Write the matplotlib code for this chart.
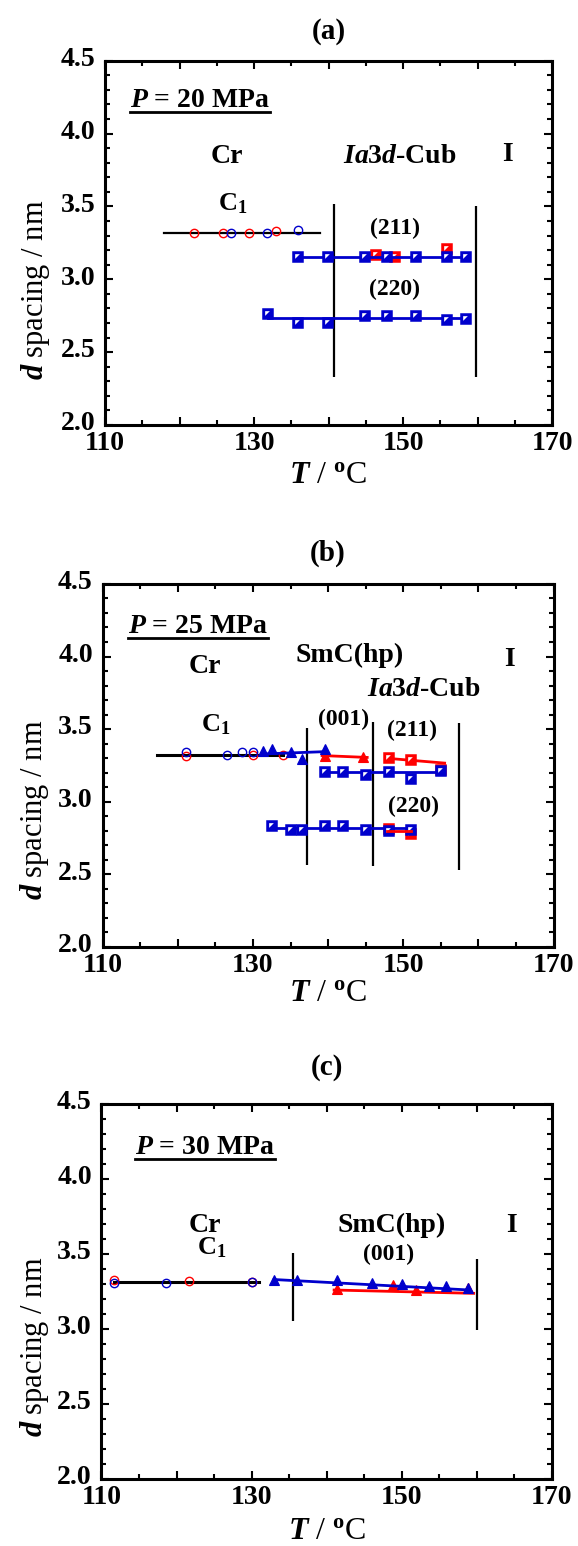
import numpy as np
import matplotlib
matplotlib.use('Agg')
import matplotlib.pyplot as plt
from matplotlib.path import Path
from matplotlib.lines import Line2D
from matplotlib.transforms import ScaledTranslation

plt.rcParams['font.family'] = ['Liberation Serif', 'DejaVu Serif']
plt.rcParams['font.weight'] = 'bold'
plt.rcParams['mathtext.fontset'] = 'custom'
plt.rcParams['mathtext.rm'] = 'Liberation Serif:bold'
plt.rcParams['mathtext.bf'] = 'Liberation Serif:bold'
plt.rcParams['mathtext.it'] = 'Liberation Serif:italic:bold'

RED = '#ff0000'
BLUE = '#0000cc'

# ---- (a) P = 20 MPa ----
a_c1_red_T = [121.9, 125.9, 129.3, 132.9]
a_c1_red_d = [3.32, 3.32, 3.32, 3.33]
a_c1_blue_T = [126.9, 131.8, 135.9]
a_c1_blue_d = [3.32, 3.32, 3.34]
a_c1_fit_T = [117.9, 138.9]
a_c1_fit_d = [3.32, 3.32]
a_211_blue_T = [135.9, 139.9, 144.9, 147.9, 151.8, 155.9, 158.4]
a_211_blue_d = [3.155, 3.155, 3.155, 3.155, 3.155, 3.155, 3.155]
a_211_red_T = [146.4, 148.9, 155.9]
a_211_red_d = [3.17, 3.15, 3.205]
a_211_fit_T = [135.9, 158.4]
a_211_fit_d = [3.155, 3.155]
a_220_blue_T = [131.9, 135.9, 139.9, 144.9, 147.9, 151.8, 155.9, 158.4]
a_220_blue_d = [2.76, 2.70, 2.70, 2.75, 2.75, 2.75, 2.72, 2.73]
a_220_fit_T = [131.9, 158.4]
a_220_fit_d = [2.733, 2.733]
a_bound_T = [140.7, 159.8]
a_bound_lo = [2.33, 2.33]
a_bound_hi = [3.52, 3.50]

# ---- (b) P = 25 MPa ----
b_c1_blue_T = [121.1, 126.5, 128.5, 130.0]
b_c1_blue_d = [3.34, 3.32, 3.34, 3.34]
b_c1_red_T = [121.1, 130.0, 134.0]
b_c1_red_d = [3.315, 3.32, 3.32]
b_c1_fit_T = [117.2, 134.0]
b_c1_fit_d = [3.32, 3.32]
b_001_blue_T = [131.3, 132.5, 135.0, 136.5, 139.6]
b_001_blue_d = [3.35, 3.36, 3.34, 3.295, 3.36]
b_001_blue_fit_T = [131.9, 139.6]
b_001_blue_fit_d = [3.33, 3.345]
b_001_red_T = [139.6, 144.6]
b_001_red_d = [3.318, 3.307]
b_001_red_fit_T = [139.2, 145.2]
b_001_red_fit_d = [3.318, 3.305]
b_211_red_T = [148.1, 151.0, 155.0]
b_211_red_d = [3.30, 3.29, 3.22]
b_211_red_fit_T = [148.1, 155.5]
b_211_red_fit_d = [3.298, 3.266]
b_211_blue_T = [139.6, 142.0, 145.1, 148.1, 151.0, 155.0]
b_211_blue_d = [3.204, 3.204, 3.186, 3.204, 3.158, 3.215]
b_211_blue_fit_T = [139.0, 155.0]
b_211_blue_fit_d = [3.206, 3.206]
b_220_blue_T = [132.5, 135.0, 136.5, 139.6, 142.0, 145.1, 148.1, 151.0]
b_220_blue_d = [2.83, 2.807, 2.807, 2.83, 2.83, 2.807, 2.80, 2.807]
b_220_blue_fit_T = [132.5, 151.0]
b_220_blue_fit_d = [2.818, 2.818]
b_220_red_T = [148.1, 151.0]
b_220_red_d = [2.81, 2.78]
b_220_red_fit_T = [147.8, 151.0]
b_220_red_fit_d = [2.80, 2.80]
b_bound_T = [137.2, 146.0, 157.4]
b_bound_lo = [2.566, 2.554, 2.532]
b_bound_hi = [3.507, 3.552, 3.541]

# ---- (c) P = 30 MPa ----
c_c1_red_T = [111.6, 121.6, 130.0]
c_c1_red_d = [3.327, 3.322, 3.316]
c_c1_blue_T = [111.6, 118.6, 130.0]
c_c1_blue_d = [3.304, 3.304, 3.311]
c_c1_fit_T = [111.6, 131.0]
c_c1_fit_d = [3.311, 3.311]
c_001_blue_T = [133.0, 136.1, 141.4, 146.0, 150.0, 153.6, 155.9, 158.9]
c_001_blue_d = [3.327, 3.327, 3.327, 3.309, 3.30, 3.287, 3.287, 3.271]
c_001_blue_fit_T = [133.0, 159.1]
c_001_blue_fit_d = [3.33, 3.26]
c_001_red_T = [141.4, 148.9, 151.9, 158.9]
c_001_red_d = [3.264, 3.293, 3.262, 3.271]
c_001_red_fit_T = [141.0, 159.6]
c_001_red_fit_d = [3.26, 3.238]
c_bound_T = [135.5, 160.1]
c_bound_lo = [3.055, 2.993]
c_bound_hi = [3.509, 3.47]

# white corner drawn on top of the squares
corner = Path([(-1, 1), (0.4, 1), (-1, -0.4), (-1, 1)],
              [Path.MOVETO, Path.LINETO, Path.LINETO, Path.CLOSEPOLY])


def circles(ax, T, d, color):
    ax.plot(T, d, ls='none', marker='o', ms=6.0, mfc='none', mec=color, mew=1.0)


def squares(ax, T, d, color):
    ax.plot(T, d, ls='none', marker='s', ms=7.6, mfc=color, mec=color, mew=1.1)
    ax.plot(T, d, ls='none', marker=corner, ms=4.8, mfc='white', mec='none')


def triangles(ax, T, d, color):
    ax.plot(T, d, ls='none', marker='^', ms=7.2, mfc=color, mec=color, mew=0.8)


def fit(ax, T, d, color, lw=2.0):
    ax.plot(T, d, '-', color=color, lw=lw)


def bounds(ax, T, lo, hi):
    ax.vlines(T, lo, hi, color='black', lw=1.6)


def style(ax, title, title_y, xlab_y, ylab_x, ylab_y):
    ax.set_xlim(110, 170)
    ax.set_ylim(2.0, 4.5)
    ax.set_xticks([110, 120, 130, 140, 150, 160, 170])
    ax.set_xticklabels(['110', '', '130', '', '150', '', '170'])
    ax.set_xticks(np.arange(110, 171, 5), minor=True)
    ax.set_yticks([2.0, 2.5, 3.0, 3.5, 4.0, 4.5])
    ax.set_yticklabels(['2.0', '2.5', '3.0', '3.5', '4.0', '4.5'])
    ax.set_yticks(np.arange(2.0, 4.51, 0.1), minor=True)
    ax.tick_params(which='both', direction='in', top=True, right=True,
                   labelsize=20, width=1.5)
    ax.tick_params(which='major', length=5.5)
    ax.tick_params(which='minor', length=3.5)
    ax.tick_params(axis='x', pad=4.5)
    ax.tick_params(axis='y', pad=7)
    for sp in ax.spines.values():
        sp.set_linewidth(2.2)
    for lbl in ax.get_yticklabels():
        lbl.set_transform(lbl.get_transform() + ScaledTranslation(0, 3 / 72, fig.dpi_scale_trans))
    ax.text(0.5, title_y, title, transform=ax.transAxes, fontsize=21,
            ha='center', va='center')
    ax.set_xlabel(r'$T$ / $^\mathrm{o}$C', fontsize=23, va='center')
    ax.xaxis.set_label_coords(0.5, xlab_y)
    ax.set_ylabel(r'$d$ spacing / nm', fontsize=22, va='center')
    ax.yaxis.set_label_coords(ylab_x, ylab_y)


fig = plt.figure(figsize=(5.78, 15.46), dpi=100)
ax_a = fig.add_axes([0.1817, 0.7251, 0.7734, 0.2356])
ax_b = fig.add_axes([0.1775, 0.3875, 0.7803, 0.2348])
ax_c = fig.add_axes([0.1756, 0.0433, 0.7789, 0.2426])

# (a)
ax = ax_a
bounds(ax, a_bound_T, a_bound_lo, a_bound_hi)
fit(ax, a_c1_fit_T, a_c1_fit_d, 'black', lw=1.6)
circles(ax, a_c1_red_T, a_c1_red_d, RED)
circles(ax, a_c1_blue_T, a_c1_blue_d, BLUE)
squares(ax, a_211_red_T, a_211_red_d, RED)
fit(ax, a_211_fit_T, a_211_fit_d, BLUE)
squares(ax, a_211_blue_T, a_211_blue_d, BLUE)
fit(ax, a_220_fit_T, a_220_fit_d, BLUE)
squares(ax, a_220_blue_T, a_220_blue_d, BLUE)
style(ax, '(a)', 1.08, -0.14, -0.155, 0.37)
p_a = ax.text(113.4, 4.23, r'$P$ = 20 MPa', fontsize=20, va='center')
ax.text(126.3, 3.84, 'Cr', fontsize=20, ha='center', va='center')
ax.text(149.6, 3.84, r'$\mathit{Ia3d}$-Cub', fontsize=20, ha='center', va='center')
ax.text(164.0, 3.86, 'I', fontsize=20, ha='center', va='center')
ax.text(127.2, 3.52, r'C$_\mathrm{1}$', fontsize=19, ha='center', va='center')
ax.text(148.9, 3.35, '(211)', fontsize=17, ha='center', va='center')
ax.text(148.9, 2.93, '(220)', fontsize=17, ha='center', va='center')

# (b)
ax = ax_b
bounds(ax, b_bound_T, b_bound_lo, b_bound_hi)
fit(ax, b_c1_fit_T, b_c1_fit_d, 'black', lw=2.2)
circles(ax, b_c1_red_T, b_c1_red_d, RED)
circles(ax, b_c1_blue_T, b_c1_blue_d, BLUE)
fit(ax, b_001_red_fit_T, b_001_red_fit_d, RED)
triangles(ax, b_001_red_T, b_001_red_d, RED)
fit(ax, b_001_blue_fit_T, b_001_blue_fit_d, BLUE)
triangles(ax, b_001_blue_T, b_001_blue_d, BLUE)
fit(ax, b_211_red_fit_T, b_211_red_fit_d, RED)
squares(ax, b_211_red_T, b_211_red_d, RED)
fit(ax, b_211_blue_fit_T, b_211_blue_fit_d, BLUE)
squares(ax, b_211_blue_T, b_211_blue_d, BLUE)
squares(ax, b_220_red_T, b_220_red_d, RED)
fit(ax, b_220_blue_fit_T, b_220_blue_fit_d, BLUE)
squares(ax, b_220_blue_T, b_220_blue_d, BLUE)
fit(ax, b_220_red_fit_T, b_220_red_fit_d, RED)
style(ax, '(b)', 1.084, -0.128, -0.15, 0.377)
p_b = ax.text(113.4, 4.21, r'$P$ = 25 MPa', fontsize=20, va='center')
ax.text(123.6, 3.93, 'Cr', fontsize=20, ha='center', va='center')
ax.text(142.8, 4.01, 'SmC(hp)', fontsize=20, ha='center', va='center')
ax.text(152.8, 3.77, r'$\mathit{Ia3d}$-Cub', fontsize=20, ha='center', va='center')
ax.text(164.1, 3.98, 'I', fontsize=20, ha='center', va='center')
ax.text(125.1, 3.53, r'C$_\mathrm{1}$', fontsize=19, ha='center', va='center')
ax.text(142.0, 3.57, '(001)', fontsize=17, ha='center', va='center')
ax.text(151.2, 3.49, '(211)', fontsize=17, ha='center', va='center')
ax.text(151.3, 2.97, '(220)', fontsize=17, ha='center', va='center')

# (c)
ax = ax_c
bounds(ax, c_bound_T, c_bound_lo, c_bound_hi)
fit(ax, c_c1_fit_T, c_c1_fit_d, 'black', lw=2.2)
circles(ax, c_c1_red_T, c_c1_red_d, RED)
circles(ax, c_c1_blue_T, c_c1_blue_d, BLUE)
fit(ax, c_001_red_fit_T, c_001_red_fit_d, RED)
triangles(ax, c_001_red_T, c_001_red_d, RED)
fit(ax, c_001_blue_fit_T, c_001_blue_fit_d, BLUE)
triangles(ax, c_001_blue_T, c_001_blue_d, BLUE)
style(ax, '(c)', 1.096, -0.139, -0.148, 0.352)
p_c = ax.text(114.5, 4.21, r'$P$ = 30 MPa', fontsize=20, va='center')
ax.text(123.8, 3.69, 'Cr', fontsize=20, ha='center', va='center')
ax.text(148.6, 3.69, 'SmC(hp)', fontsize=20, ha='center', va='center')
ax.text(164.6, 3.69, 'I', fontsize=20, ha='center', va='center')
ax.text(124.7, 3.54, r'C$_\mathrm{1}$', fontsize=19, ha='center', va='center')
ax.text(148.2, 3.50, '(001)', fontsize=17, ha='center', va='center')

# underline the pressure labels
fig.canvas.draw()
inv = fig.transFigure.inverted()
for t in (p_a, p_b, p_c):
    bb = t.get_window_extent()
    (x0, y0), (x1, _) = inv.transform([(bb.x0, bb.y0 + 1), (bb.x1, bb.y0 + 1)])
    fig.add_artist(Line2D([x0, x1], [y0, y0], transform=fig.transFigure,
                          color='black', lw=2.0))

fig.savefig('out.png', dpi=100)
